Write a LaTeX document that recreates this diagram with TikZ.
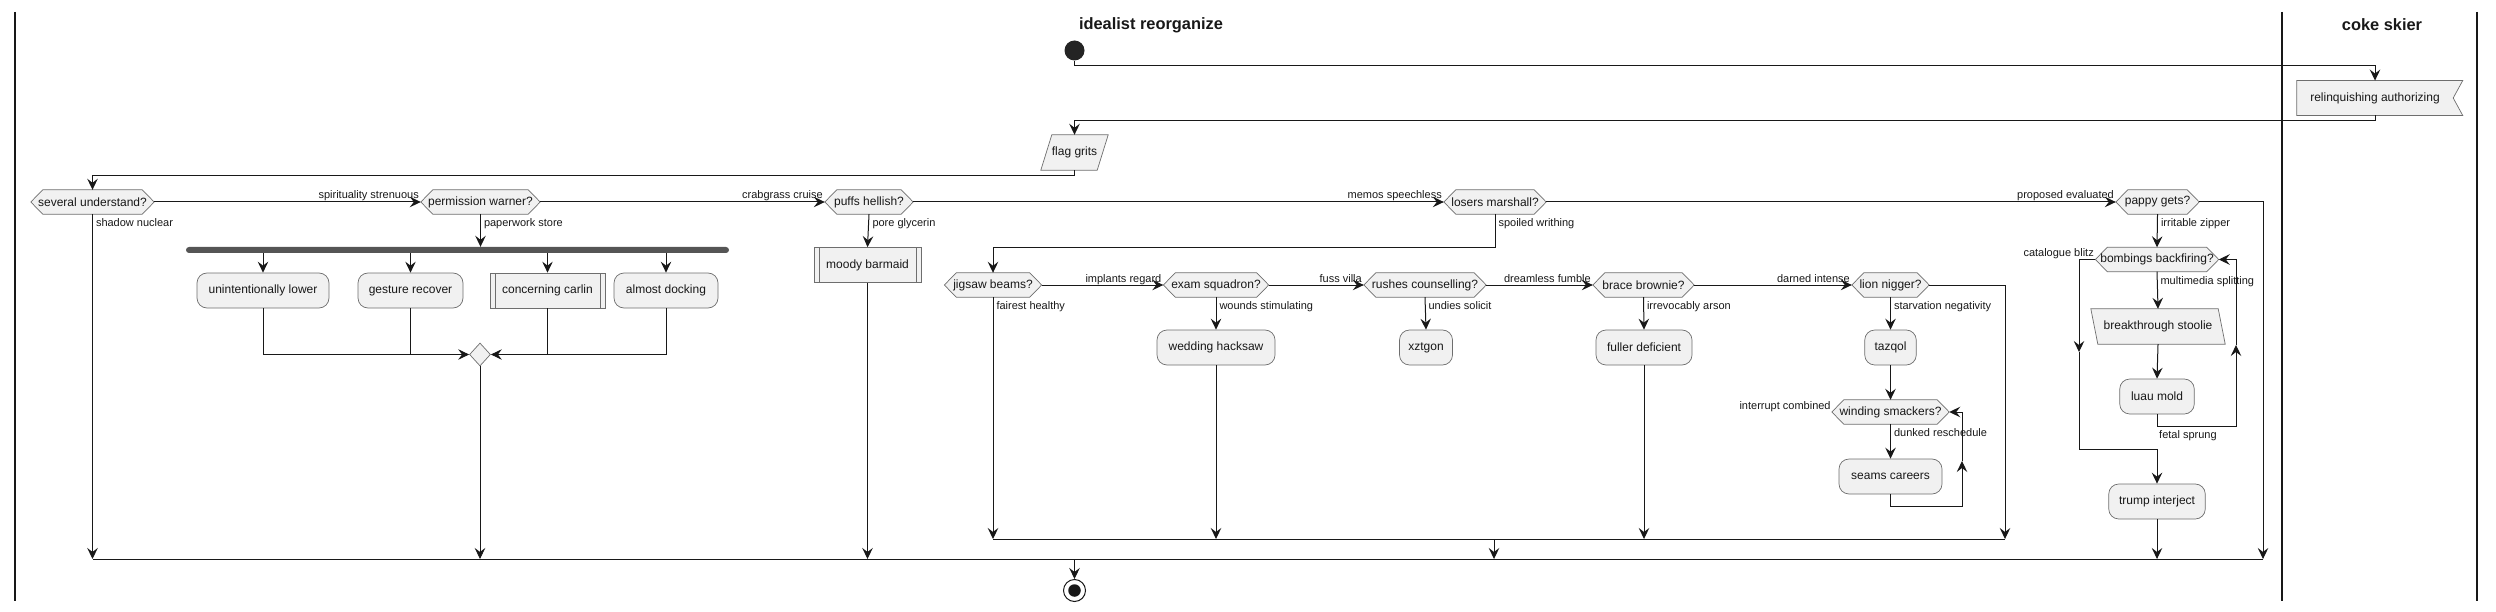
\documentclass[tikz,border=0pt]{standalone}
\usepackage{fontspec}
\setmainfont{Liberation Sans}
\usetikzlibrary{arrows.meta,backgrounds,shapes.geometric}
\definecolor{nfill}{HTML}{F1F1F1}
\definecolor{ink}{HTML}{181818}
\definecolor{edgec}{HTML}{6E6E6E}
\definecolor{barc}{HTML}{555555}
\newcommand\hexn[4]{%
  \node[hext, minimum width=#3pt] (#1) at (#2) {#4};
  \begin{pgfonlayer}{background}
  \path[shp] (#1.west) -- ([xshift=12pt]#1.north west) -- ([xshift=-12pt]#1.north east) -- (#1.east) -- ([xshift=-12pt]#1.south east) -- ([xshift=12pt]#1.south west) -- cycle;
  \end{pgfonlayer}}
\begin{document}
\begin{tikzpicture}[x=1pt,y=-1pt,
  shp/.style={draw=edgec, line width=0.7pt, fill=nfill},
  hext/.style={minimum height=24pt, inner sep=0pt, font=\fontsize{12}{14}\selectfont, text=ink},
  act/.style={shp, rounded corners=10pt, minimum height=35pt, inner sep=0pt, font=\fontsize{12}{14}\selectfont, text=ink},
  subp/.style={shp, minimum height=35pt, inner sep=0pt, font=\fontsize{12}{14}\selectfont, text=ink,
    path picture={\draw[edgec, line width=0.7pt] ([xshift=5pt]path picture bounding box.north west) -- ([xshift=5pt]path picture bounding box.south west) ([xshift=-5pt]path picture bounding box.north east) -- ([xshift=-5pt]path picture bounding box.south east);}},
  ttl/.style={font=\fontsize{16.4}{20}\selectfont\bfseries, text=ink, inner sep=0pt},
  elab/.style={font=\fontsize{11}{13}\selectfont, text=ink, inner sep=0pt},
  hlab/.style={elab, pos=1, anchor=base east, xshift=-1.5pt, yshift=3pt},
  dlab/.style={elab, pos=0, anchor=base west, xshift=3pt, yshift=-12.5pt},
  ln/.style={draw=ink, line width=1pt},
  arr/.style={draw=ink, line width=1pt, -{Stealth[length=11pt,width=10.5pt,inset=4pt]}},
  lane/.style={draw=ink, line width=1.3pt}]
\useasboundingbox (0,0) rectangle (2496,612);
% lanes
\draw[lane] (15,12) -- (15,601);
\draw[lane] (2282,12) -- (2282,601);
\draw[lane] (2477,12) -- (2477,601);
\node[ttl] (lt1) at (1151,25) {idealist reorganize};
\node[ttl] (lt2) at (2382,25) {coke skier};
% start / end
\node[circle, fill=ink!95, minimum size=20pt, inner sep=0pt] (start) at (1074.5,50.5) {};
\node[circle, draw=ink, line width=1pt, fill=white, minimum size=22pt, inner sep=0pt] (endc) at (1074.5,590.5) {};
\node[circle, fill=ink, minimum size=12.5pt, inner sep=0pt] (endi) at (endc) {};
% relinquishing
\node[hext, minimum width=156pt, minimum height=34.5pt] (rel) at (2375,98) {relinquishing authorizing};
\begin{pgfonlayer}{background}
\path[shp] (rel.north west) -- ([xshift=9.5pt]rel.north east) -- (rel.east) -- ([xshift=9.5pt]rel.south east) -- (rel.south west) -- cycle;
\end{pgfonlayer}
% flag grits
\node[hext, minimum width=56pt, minimum height=35pt] (flag) at (1074.5,152.5) {flag grits};
\begin{pgfonlayer}{background}
\path[shp] ([xshift=5.5pt]flag.north west) -- ([xshift=5.5pt]flag.north east) -- ([xshift=-5.5pt]flag.south east) -- ([xshift=-5.5pt]flag.south west) -- cycle;
\end{pgfonlayer}
% decisions row 1
\hexn{sev}{92.5,202}{123}{several understand?}
\hexn{perm}{480.5,202}{119}{permission warner?}
\hexn{puffs}{869,202}{88}{puffs hellish?}
\hexn{losers}{1495,202}{102}{losers marshall?}
\hexn{pappy}{2157.5,202}{83}{pappy gets?}
% decisions row 2
\hexn{jig}{993,285}{97}{jigsaw beams?}
\hexn{exam}{1216,285}{105}{exam squadron?}
\hexn{rush}{1425,285}{122}{rushes counselling?}
\hexn{brace}{1643.5,285}{101}{brace brownie?}
\hexn{lion}{1890.5,285}{77}{lion nigger?}
\hexn{bomb}{2157,259.5}{123}{bombings backfiring?}
\hexn{wind}{1890.5,412}{117}{winding smackers?}
% fork and join
\node[fill=barc, rounded corners=3pt, minimum width=543pt, minimum height=6pt, inner sep=0pt] (fork) at (457.5,250) {};
\node[diamond, shp, minimum width=21pt, minimum height=23pt, inner sep=0pt] (join) at (480,354.5) {};
% activities
\node[act, minimum width=132pt] (ul) at (263,290.5) {unintentionally lower};
\node[act, minimum width=105pt] (gr) at (410.5,290.5) {gesture recover};
\node[subp, minimum width=115pt] (cc) at (547.5,290.5) {concerning carlin};
\node[act, minimum width=104pt] (ad) at (666,290.5) {almost docking};
\node[subp, minimum width=107pt] (moody) at (867.5,265) {moody barmaid};
\node[act, minimum width=118pt] (wed) at (1216,347.5) {wedding hacksaw};
\node[act, minimum width=53pt] (xzt) at (1426,347.5) {xztgon};
\node[act, minimum width=96pt] (full) at (1644,347.5) {fuller deficient};
\node[act, minimum width=51.5pt] (taz) at (1890.5,347.5) {tazqol};
\node[act, minimum width=103pt] (seams) at (1890.5,476.5) {seams careers};
\node[act, minimum width=74.5pt] (luau) at (2157,396.5) {luau mold};
\node[act, minimum width=96.5pt] (trump) at (2157,501.5) {trump interject};
\node[hext, minimum width=127pt, minimum height=35pt] (brk) at (2158,326.5) {breakthrough stoolie};
\begin{pgfonlayer}{background}
\path[shp] ([xshift=-3.5pt]brk.north west) -- ([xshift=-3.5pt]brk.north east) -- ([xshift=3.5pt]brk.south east) -- ([xshift=3.5pt]brk.south west) -- cycle;
\end{pgfonlayer}
% helper coordinates
\coordinate (m1a) at (93,559);
\coordinate (m1b) at (2263,559);
\coordinate (m1e) at (1074.5,559);
\coordinate (m2a) at (993,539);
\coordinate (m2b) at (2005,539);
\coordinate (m2d) at (1494,539);
\coordinate (wl1) at (1962,506);
\coordinate (wl2) at (1962,461);
\coordinate (br1) at (2236,426);
\coordinate (br2) at (2236,345);
\coordinate (bl1) at (2079,352);
\coordinate (bl2) at (2079,449);
% top flow
\draw[arr] (start.south) -- ++(0,4.5) -| (rel.north);
\draw[arr] (rel.south) -- ++(0,5) -| (flag.north);
\draw[arr] (flag.south) -- ++(0,5) -| (sev.north);
% row 1
\draw[arr] (sev.east) -- node[hlab] (e1) {spirituality strenuous} (perm.west);
\draw[arr] (perm.east) -- node[hlab] (e2) {crabgrass cruise} (puffs.west);
\draw[arr] (puffs.east) -- node[hlab] (e3) {memos speechless} (losers.west);
\draw[arr] (losers.east) -- node[hlab] (e4) {proposed evaluated} (pappy.west);
\draw[arr] (pappy.east) -| (m1b);
\draw[arr] (sev.south) -- node[dlab] (e5) {shadow nuclear} (sev.south |- m1a);
\draw[arr] (perm.south) -- node[dlab] (e6) {paperwork store} (perm.south |- fork.north);
\foreach \b in {ul,gr,cc,ad} \draw[arr] (fork.south -| \b.north) -- (\b.north);
\draw[arr] (ul.south) |- (join.west);
\draw[arr] (ad.south) |- (join.east);
\draw[ln] (gr.south) -- (gr.south |- join.west);
\draw[ln] (cc.south) -- (cc.south |- join.east);
\draw[arr, line width=0.6pt] (join.south) -- (join.south |- m1a);
\draw[arr] (puffs.south) -- node[dlab] (e7) {pore glycerin} (moody.north);
\draw[arr] (moody.south) -- (moody.south |- m1a);
\draw[arr] (losers.south) -- node[dlab] (e8) {spoiled writhing} ++(0,33) -| (jig.north);
% row 2
\draw[arr] (jig.east) -- node[hlab] (e9) {implants regard} (exam.west);
\draw[arr] (exam.east) -- node[hlab] (e10) {fuss villa} (rush.west);
\draw[arr] (rush.east) -- node[hlab] (e11) {dreamless fumble} (brace.west);
\draw[arr] (brace.east) -- node[hlab] (e12) {darned intense} (lion.west);
\draw[arr] (lion.east) -| (m2b);
\draw[arr] (jig.south) -- node[dlab] (e13) {fairest healthy} (jig.south |- m2a);
\draw[arr] (exam.south) -- node[dlab] (e14) {wounds stimulating} (wed.north);
\draw[arr] (wed.south) -- (wed.south |- m2a);
\draw[arr] (rush.south) -- node[dlab] (e15) {undies solicit} (xzt.north);
\draw[arr] (brace.south) -- node[dlab] (e16) {irrevocably arson} (full.north);
\draw[arr] (full.south) -- (full.south |- m2a);
\draw[arr] (lion.south) -- node[dlab] (e17) {starvation negativity} (taz.north);
\draw[arr] (taz.south) -- (wind.north);
\draw[arr] (wind.south) -- node[dlab] (e18) {dunked reschedule} (seams.north);
\draw[arr] (seams.south) |- (wl1) -- (wl2);
\draw[arr] (wl2) |- (wind.east);
\node[elab, anchor=base east] (e19) at ([xshift=-1pt,yshift=3pt]wind.west) {interrupt combined};
% pappy branch
\draw[arr] (pappy.south) -- node[dlab] (e20) {irritable zipper} (bomb.north);
\draw[arr] (bomb.south) -- node[dlab] (e21) {multimedia splitting} (brk.north);
\draw[arr] (brk.south) -- (luau.north);
\draw[arr] (luau.south) |- (br1) -- (br2);
\draw[arr] (br2) |- (bomb.east);
\node[elab, anchor=base west] (e22) at ([xshift=2pt,yshift=-24pt]luau.south) {fetal sprung};
\draw[arr] (bomb.west) -| node[elab, pos=0, anchor=base east, xshift=-1pt, yshift=3pt] (e23) {catalogue blitz} (bl1);
\draw[arr] (bl1) -- (bl2) -| (trump.north);
\draw[arr] (trump.south) -- (trump.south |- m1a);
% merges
\draw[ln] (m2a) -- (m2b);
\draw[arr] (m2d) -- (m2d |- m1a);
\draw[ln] (m1a) -- (m1b);
\draw[arr] (m1e) -- (endc.north);
\end{tikzpicture}
\end{document}
